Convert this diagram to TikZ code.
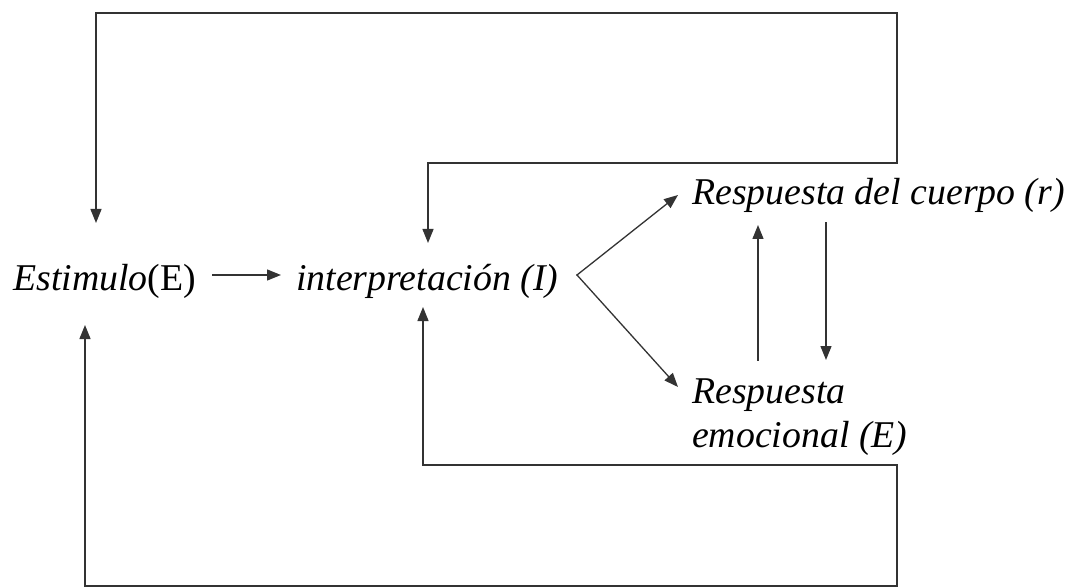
\documentclass[tikz,border=0pt]{standalone}
\usepackage{fontspec}
\setmainfont{Liberation Serif}
\usetikzlibrary{arrows.meta}
\tikzset{
  lbl/.style={inner sep=0pt, anchor=base west, font=\fontsize{37.8}{44}\selectfont\itshape, align=left},
  ln/.style={draw=black!80, line width=1.3pt, line cap=rect},
  arr/.style={ln, -{Triangle[length=14pt,width=11pt]}}
}
\begin{document}
\begin{tikzpicture}[x=1pt,y=-1pt]
\useasboundingbox (0,0) rectangle (1071,588);
% nodes
\node[lbl] (est) at (13,290) {Estimulo\upshape(E)};
\node[lbl] (interp) at (296,290) {interpretación (I)};
\node[lbl] (cuerpo) at (692,205) {Respuesta del cuerpo (r)};
\node[lbl] (emoc) at (692,447) {Respuesta\\emocional (E)};
% coordinates
\coordinate (estTop) at (96,223);
\coordinate (estBot) at (85,325);
\coordinate (intTop) at (428,243);
\coordinate (intBot) at (423,307);
\coordinate (apex) at (577,275);
\coordinate (cuerpoIn) at (678,195);
\coordinate (emocIn) at (678,387);
\coordinate (upS) at (758,360);
\coordinate (upE) at (758,225);
\coordinate (dnS) at (826,223);
\coordinate (dnE) at (826,360);
\coordinate (rTopA) at (897,163);
\coordinate (rTopB) at (897,13);
\coordinate (rBotA) at (897,465);
\coordinate (rBotB) at (897,586);
% connectors
\draw[arr] ([xshift=17pt]est.east |- 0,275) -- ([xshift=-15pt]interp.west |- 0,275);
\draw[arr] (apex) -- (cuerpoIn);
\draw[arr] (apex) -- (emocIn);
\draw[arr] (upS) -- (upE);
\draw[arr] (dnS) -- (dnE);
\draw[arr] (rTopA) -- (rTopA -| intTop) -- (intTop);
\draw[arr] (rTopA) -- (rTopB) -- (rTopB -| estTop) -- (estTop);
\draw[arr] (rBotA) -- (rBotA -| intBot) -- (intBot);
\draw[arr] (rBotA) -- (rBotB) -- (rBotB -| estBot) -- (estBot);
\end{tikzpicture}
\end{document}
